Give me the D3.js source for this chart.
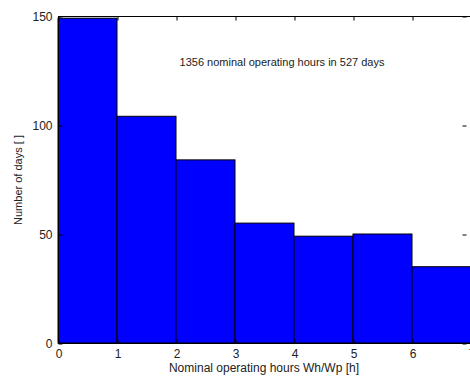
<!DOCTYPE html>
<html>
<head>
<meta charset="utf-8">
<script src="https://cdn.jsdelivr.net/npm/d3@7"></script>
<style>
  body { margin: 0; background: #fff; }
  text { font-family: "Liberation Sans", Arial, sans-serif; fill: #222; }
</style>
</head>
<body>
<svg id="canvas" width="470" height="377"></svg>
<script>
const binStarts = [0, 1, 2, 3, 4, 5, 6];
const dayCounts = [149, 104, 84, 55, 49, 50, 35];
const xTicks = [0, 1, 2, 3, 4, 5, 6, 7];
const yTicks = [0, 50, 100, 150];
const note = '1356 nominal operating hours in 527 days';

const svg = d3.select('#canvas');
const plotLeft = 58, plotRight = 471, plotTop = 16, plotBottom = 343;

const x = d3.scaleLinear().domain([0, 7]).range([plotLeft, plotRight]);
const y = d3.scaleLinear().domain([0, 150]).range([plotBottom, plotTop]);

// bars
svg.selectAll('rect.bar')
  .data(binStarts)
  .enter()
  .append('rect')
  .attr('class', 'bar')
  .attr('x', (d) => x(d))
  .attr('y', (d, i) => y(dayCounts[i]))
  .attr('width', (d) => x(d + 1) - x(d))
  .attr('height', (d, i) => y(0) - y(dayCounts[i]))
  .attr('fill', '#0000ff')
  .attr('stroke', '#000')
  .attr('stroke-width', 1);

// box
svg.append('rect')
  .attr('x', plotLeft + 0.5)
  .attr('y', plotTop + 0.5)
  .attr('width', plotRight - plotLeft)
  .attr('height', plotBottom - plotTop)
  .attr('fill', 'none')
  .attr('stroke', '#000')
  .attr('stroke-width', 1);

// axes, ticks inward
let xAxis = d3.axisBottom(x).tickValues(xTicks).tickFormat(d3.format('d'))
  .tickSizeInner(-4).tickSizeOuter(0).tickPadding(6);
let yAxis = d3.axisLeft(y).tickValues(yTicks).tickFormat(d3.format('d'))
  .tickSizeInner(-4).tickSizeOuter(0).tickPadding(6);

svg.append('g').attr('transform', `translate(0.5,${plotBottom + 0.5})`).call(xAxis);
svg.append('g').attr('transform', `translate(${plotLeft + 0.5},0.5)`).call(yAxis);

// mirrored ticks on top and right
svg.append('g').attr('transform', `translate(0.5,${plotTop + 0.5})`)
  .call(d3.axisTop(x).tickValues(xTicks).tickSizeInner(-4).tickSizeOuter(0).tickFormat(''));
svg.append('g').attr('transform', `translate(${plotRight - 4.5},0.5)`)
  .call(d3.axisRight(y).tickValues(yTicks).tickSizeInner(-4).tickSizeOuter(0).tickFormat(''));

svg.selectAll('.domain').remove();
svg.selectAll('.tick line').attr('stroke', '#000');
svg.selectAll('.tick text').style('font-size', '12px').attr('fill', '#222');

// labels
svg.append('text')
  .attr('x', 264)
  .attr('y', 372)
  .attr('text-anchor', 'middle')
  .style('font-size', '12px')
  .text('Nominal operating hours Wh/Wp [h]');

svg.append('text')
  .attr('transform', 'translate(22,180) rotate(-90)')
  .attr('text-anchor', 'middle')
  .style('font-size', '11px')
  .text('Number of days [ ]');

svg.append('text')
  .attr('x', 282)
  .attr('y', 66)
  .attr('text-anchor', 'middle')
  .style('font-size', '11px')
  .text(note);
</script>
</body>
</html>
